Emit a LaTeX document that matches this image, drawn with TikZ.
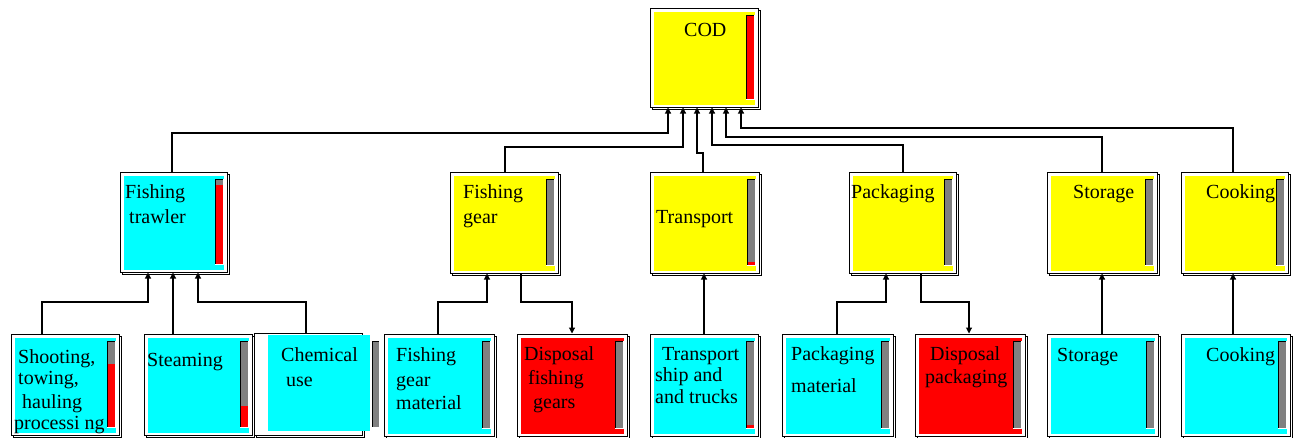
\documentclass[tikz,border=0pt]{standalone}
\usepackage{fontspec}
\setmainfont{Liberation Serif}
\usetikzlibrary{arrows.meta,fit}

\definecolor{boxcyan}{RGB}{0,255,255}
\definecolor{boxyellow}{RGB}{255,255,0}
\definecolor{boxred}{RGB}{255,0,0}
\definecolor{bargray}{RGB}{128,128,128}

% indicator bar: left, top, right, bottom, red share (0..1, filled from the bottom)
\newcommand\lcabar[5]{%
  \fill[bargray] ({#1},{#2}) rectangle ({#3},{#4});
  \fill[boxred] ({#1},{#4-(#5)*((#4)-(#2))}) rectangle ({#3},{#4});
  \draw[barshade] ({#1},{#4}) -- ({#1},{#2}) -- ({#3},{#2});
  \draw[barlight] ({#3},{#2}) -- ({#3},{#4}) -- ({#1},{#4});
}
% process box: name, x0, y0, x1, y1, fill colour, red share of the bar
\newcommand\lcabox[7]{%
  \draw[frame] ({#2+2},{#3+2}) rectangle ({#4+2},{#5+2});
  \node[framenode, fit={(#2,#3)(#4,#5)}] (#1) {};
  \fill[#6] ({#2+4},{#3+4}) rectangle ({#4-3},{#5-2});
  \lcabar{#4-12}{#3+7}{#4-4}{#5-8}{#7}%
}

\tikzset{
  frame/.style={draw=black, fill=white, line width=1pt},
  framenode/.style={draw=black, fill=white, line width=1pt, inner sep=0pt},
  barshade/.style={draw=black, line width=0.9pt},
  barlight/.style={draw=white, line width=0.9pt},
  lbl/.style={anchor=base west, inner sep=0pt, yshift=-1.5pt, font=\fontsize{20}{24}\selectfont},
  conn/.style={draw=black, line width=1.1pt, -{Triangle[length=6pt,width=6pt]}},
}

\begin{document}
\begin{tikzpicture}[x=1pt, y=-1pt]
\useasboundingbox (0,0) rectangle (1295,437);
\fill[white] (0,0) rectangle (1295,437);

% top level
\lcabox{cod}{650}{8}{758}{107}{boxyellow}{1}

% middle level
\lcabox{trawler}{120}{172}{227}{272}{boxcyan}{0.93}
\lcabox{fgear}{450}{172}{558}{273}{boxyellow}{0}
\lcabox{transp}{650}{172}{759}{273}{boxyellow}{0.035}
\lcabox{pack}{849}{172}{956}{273}{boxyellow}{0}
\lcabox{stor}{1047}{172}{1157}{273}{boxyellow}{0}
\lcabox{cook}{1181}{172}{1288}{273}{boxyellow}{0}

% bottom level
\lcabox{shoot}{11}{334}{119}{435}{boxcyan}{0.73}
\lcabox{steam}{144}{334}{252}{435}{boxcyan}{0.25}
\draw[frame] (256,335) rectangle (364,437);
\node[framenode, fit={(254,333)(362,435)}] (chem) {};
\fill[boxcyan] (268,335) rectangle (370,431);
\lcabar{372}{341}{379}{427}{0}
\lcabox{fgm}{384}{334}{494}{436}{boxcyan}{0}
\lcabox{dfg}{517}{334}{627}{436}{boxred}{0}
\lcabox{tship}{650}{334}{758}{436}{boxcyan}{0.03}
\lcabox{pmat}{782}{334}{893}{436}{boxcyan}{0}
\lcabox{dpack}{915}{334}{1025}{436}{boxred}{0}
\lcabox{stor2}{1047}{334}{1158}{436}{boxcyan}{0}
\lcabox{cook2}{1181}{334}{1290}{436}{boxcyan}{0}

% labels
\node[lbl] (codT) at (684,35) {COD};
\node[lbl] (trawlerT1) at (125,197) {Fishing};
\node[lbl] (trawlerT2) at (129,222) {trawler};
\node[lbl] (fgearT1) at (463,197) {Fishing};
\node[lbl] (fgearT2) at (463,222) {gear};
\node[lbl] (transpT) at (656,222) {Transport};
\node[lbl] (packT) at (851,197) {Packaging};
\node[lbl] (storT) at (1073,197) {Storage};
\node[lbl] (cookT) at (1206,197) {Cooking};
\node[lbl] (shootT1) at (18,362) {Shooting,};
\node[lbl] (shootT2) at (18,383) {towing,};
\node[lbl] (shootT3) at (22,407) {hauling};
\node[lbl] (shootT4) at (14,428) {processi ng};
\node[lbl] (steamT) at (147,365) {Steaming};
\node[lbl] (chemT1) at (281,360) {Chemical};
\node[lbl] (chemT2) at (286,385) {use};
\node[lbl] (fgmT1) at (396,360) {Fishing};
\node[lbl] (fgmT2) at (396,385) {gear};
\node[lbl] (fgmT3) at (396,408) {material};
\node[lbl] (dfgT1) at (524,359) {Disposal};
\node[lbl] (dfgT2) at (528,383) {fishing};
\node[lbl] (dfgT3) at (533,407) {gears};
\node[lbl] (tshipT1) at (662,359) {Transport};
\node[lbl] (tshipT2) at (655,380) {ship and};
\node[lbl] (tshipT3) at (655,402) {and trucks};
\node[lbl] (pmatT1) at (791,359) {Packaging};
\node[lbl] (pmatT2) at (791,391) {material};
\node[lbl] (dpackT1) at (930,359) {Disposal};
\node[lbl] (dpackT2) at (925,382) {packaging};
\node[lbl] (stor2T) at (1057,360) {Storage};
\node[lbl] (cook2T) at (1206,360) {Cooking};

% middle level into COD
\draw[conn] (trawler.north -| 172,0) |- (668,133) -- (cod.south -| 668,0);
\draw[conn] (fgear.north -| 505,0) |- (683,147) -- (cod.south -| 683,0);
\draw[conn] (transp.north -| 703,0) |- (697,153) -- (cod.south -| 697,0);
\draw[conn] (pack.north -| 903,0) |- (712,145) -- (cod.south -| 712,0);
\draw[conn] (stor.north -| 1102,0) |- (726,137) -- (cod.south -| 726,0);
\draw[conn] (cook.north -| 1233,0) |- (741,128) -- (cod.south -| 741,0);

% bottom level into middle level
\draw[conn] (shoot.north -| 42,0) |- (148,302) -- (trawler.south -| 148,0);
\draw[conn] (steam.north -| 173,0) -- (trawler.south -| 173,0);
\draw[conn] (chem.north -| 306,0) |- (198,302) -- (trawler.south -| 198,0);
\draw[conn] (fgm.north -| 438,0) |- (487,302) -- (fgear.south -| 487,0);
\draw[conn] (fgear.south -| 521,0) |- (572,302) -- (dfg.north -| 572,0);
\draw[conn] (tship.north -| 704,0) -- (transp.south -| 704,0);
\draw[conn] (pmat.north -| 837,0) |- (886,302) -- (pack.south -| 886,0);
\draw[conn] (pack.south -| 921,0) |- (969,302) -- (dpack.north -| 969,0);
\draw[conn] (stor2.north -| 1102,0) -- (stor.south -| 1102,0);
\draw[conn] (cook2.north -| 1233,0) -- (cook.south -| 1233,0);
\end{tikzpicture}
\end{document}
